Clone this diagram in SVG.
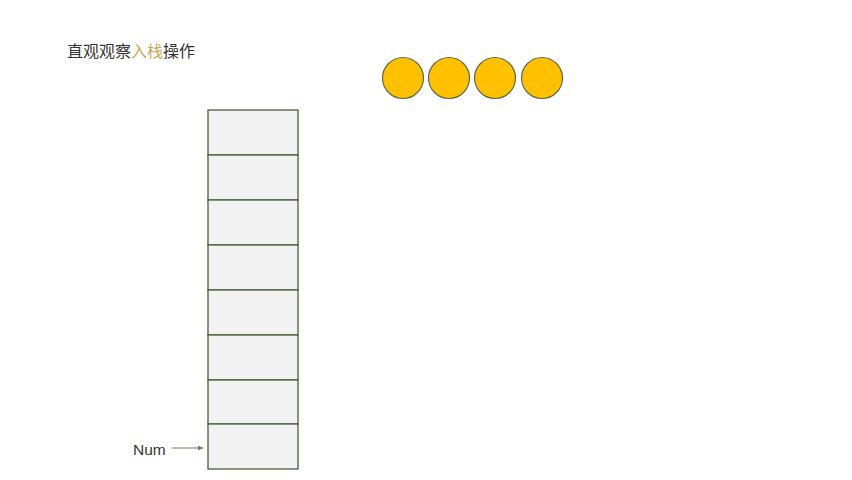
<svg xmlns="http://www.w3.org/2000/svg" width="852" height="480" viewBox="0 0 852 480">
<defs>
<style>
.cell{fill:#f2f2f2;stroke:#4a5e36;stroke-width:1.3}
.ball{fill:#ffc000;stroke:#5e6b4e;stroke-width:1.2}
.t{font-family:"Noto Sans CJK SC","Noto Sans",sans-serif;font-size:16px;fill:#333}
.n{font-family:"Liberation Sans","Noto Sans",sans-serif;font-size:15.5px;fill:#333}
</style>
<marker id="ah" viewBox="0 0 10 10" refX="9" refY="5" markerWidth="6" markerHeight="6" orient="auto" markerUnits="userSpaceOnUse"><path d="M0,1 L10,5 L0,9 z" fill="#6b7b5e"/></marker>
</defs>
<rect width="852" height="480" fill="#fff"/>
<g id="title"><text class="t" x="67" y="57">直观观察<tspan fill="#c9a55a">入栈</tspan>操作</text></g>
<g id="balls">
<circle class="ball" cx="403" cy="78" r="20.5"/>
<circle class="ball" cx="449" cy="78" r="20.5"/>
<circle class="ball" cx="495" cy="78" r="20.5"/>
<circle class="ball" cx="542" cy="78" r="20.5"/>
</g>
<g id="stack">
<rect class="cell" x="208" y="110" width="90" height="45"/>
<rect class="cell" x="208" y="155" width="90" height="45"/>
<rect class="cell" x="208" y="200" width="90" height="45"/>
<rect class="cell" x="208" y="245" width="90" height="45"/>
<rect class="cell" x="208" y="290" width="90" height="45"/>
<rect class="cell" x="208" y="335" width="90" height="45"/>
<rect class="cell" x="208" y="380" width="90" height="44"/>
<rect class="cell" x="208" y="424" width="90" height="45"/>
</g>
<g id="num"><text class="n" x="133" y="455">Num</text></g>
<g id="connectors"><line x1="172" y1="448" x2="203" y2="448" stroke="#6b7b5e" stroke-width="1" marker-end="url(#ah)"/></g>
</svg>
